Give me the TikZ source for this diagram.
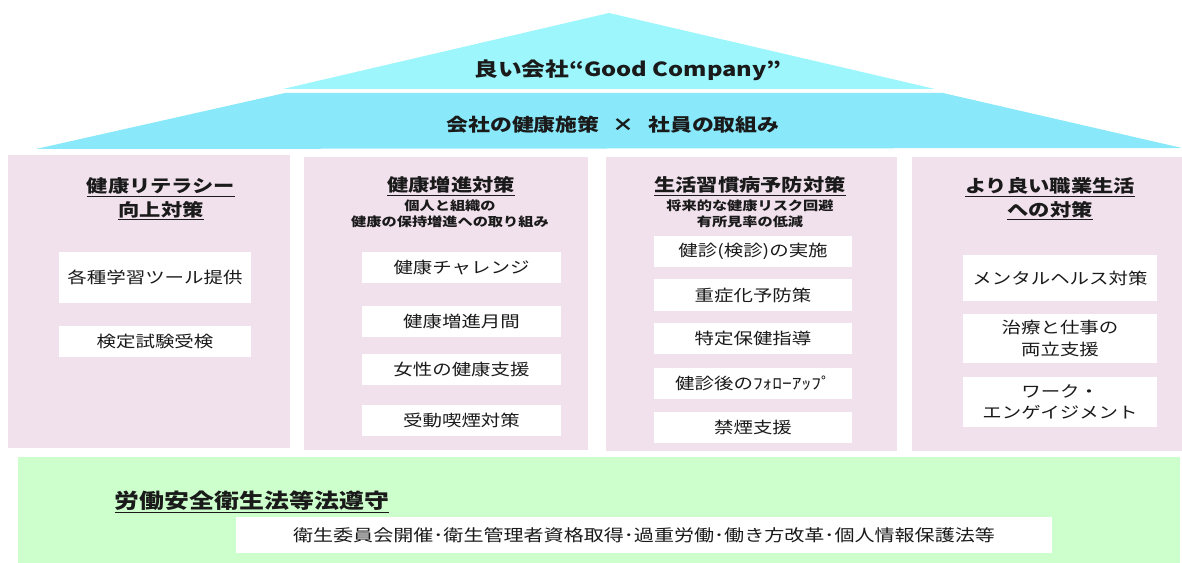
\documentclass[tikz,border=0pt]{standalone}
\usepackage{fontspec}
\setmainfont{Noto Sans CJK JP}[FakeStretch=1.22]
\definecolor{rooftop}{HTML}{9CF6FB}
\definecolor{roofband}{HTML}{89E9FB}
\definecolor{pillarpink}{HTML}{F1E1EC}
\definecolor{lawgreen}{HTML}{CCFFCC}
\definecolor{ink}{HTML}{1A1A1A}
\tikzset{
  pillar/.style={fill=pillarpink,inner sep=0pt},
  itembox/.style={fill=white,inner sep=0pt,minimum width=#1,minimum height=31bp,align=center,text=ink,font=\fontsize{16}{22}\selectfont},
  heading/.style={align=center,inner sep=0pt,text=ink,font=\bfseries\fontsize{17.5}{24}\selectfont},
  subhead/.style={align=center,inner sep=0pt,text=ink,font=\bfseries\fontsize{12.5}{15.5}\selectfont},
  rooftext/.style={inner sep=0pt,text=ink,font=\bfseries\fontsize{18}{20}\selectfont}
}
\begin{document}
\begin{tikzpicture}[x=1bp,y=-1bp]
\useasboundingbox (0,0) rectangle (1182,563);
\fill[rooftop] (609,13) -- (935,89) -- (283,89) -- cycle;
\fill[roofband] (285,93) -- (943,93) -- (1182,148) -- (36,149) -- cycle;
\node[rooftext,font=\bfseries\fontsize{19.5}{22}\selectfont] (good) at (628,70) {良い会社“Good Company”};
\node[rooftext] (policy) at (613,125) {会社の健康施策\hspace{0.75em}×\hspace{0.75em}社員の取組み};
\node[pillar,minimum width=282bp,minimum height=293bp] (litpil) at (149,301.5) {};
\node[pillar,minimum width=284bp,minimum height=293bp] (promopil) at (446,303.5) {};
\node[pillar,minimum width=291bp,minimum height=294bp] (lifepil) at (751.5,304) {};
\node[pillar,minimum width=270bp,minimum height=294bp] (workpil) at (1047,304) {};
\node[heading] (lithead) at (161,199) {\underline{健康リテラシー}\\\underline{向上対策}};
\node[heading] (promohead) at (451,186) {\underline{健康増進対策}};
\node[subhead] (promosub) at (450,214) {個人と組織の\\健康の保持増進への取り組み};
\node[heading] (lifehead) at (750,186) {\underline{生活習慣病予防対策}};
\node[subhead] (lifesub) at (750,214) {将来的な健康リスク回避\\有所見率の低減};
\node[heading] (workhead) at (1050,199) {\underline{より良い職業生活}\\\underline{への対策}};
\node[itembox=192bp,minimum height=51bp] (tools) at (155,277.5) {各種学習ツール提供};
\node[itembox=192bp] (exam) at (155,341.5) {検定試験受検};
\node[itembox=199bp] (challenge) at (461.5,267.5) {健康チャレンジ};
\node[itembox=199bp] (month) at (461.5,321.5) {健康増進月間};
\node[itembox=199bp] (women) at (461.5,369.5) {女性の健康支援};
\node[itembox=199bp] (smoke) at (461.5,420.5) {受動喫煙対策};
\node[itembox=198bp] (checkup) at (753,251.5) {健診(検診)の実施};
\node[itembox=198bp,minimum height=32bp] (severe) at (753,295) {重症化予防策};
\node[itembox=198bp] (guide) at (753,338.5) {特定保健指導};
\node[itembox=198bp] (follow) at (753,383.5) {健診後のﾌｫﾛｰｱｯﾌﾟ};
\node[itembox=198bp] (quit) at (753,427.5) {禁煙支援};
\node[itembox=194bp,minimum height=46bp] (mental) at (1060,278) {メンタルヘルス対策};
\node[itembox=194bp,minimum height=49bp] (treat) at (1060,338.5) {治療と仕事の\\両立支援};
\node[itembox=194bp,minimum height=50bp] (engage) at (1060,402) {ワーク・\\エンゲイジメント};
\node[fill=lawgreen,inner sep=0pt,minimum width=1162bp,minimum height=106bp] (lawbg) at (599,510) {};
\node[heading,font=\bfseries\fontsize{20.5}{24}\selectfont] (lawhead) at (252,502) {\underline{労働安全衛生法等法遵守}};
\node[itembox=816bp,minimum height=36bp,font=\fontsize{16.5}{20}\selectfont] (lawitems) at (644,535) {衛生委員会開催･衛生管理者資格取得･過重労働･働き方改革･個人情報保護法等};
\end{tikzpicture}
\end{document}
